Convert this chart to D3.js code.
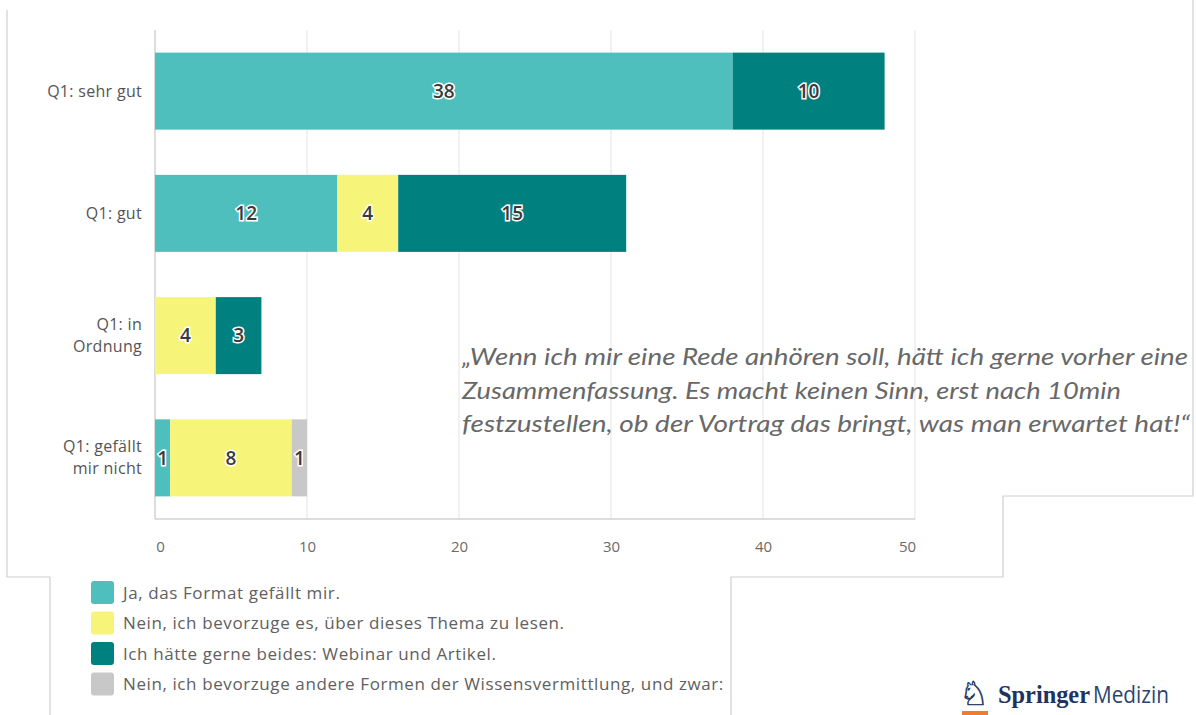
<!DOCTYPE html>
<html>
<head>
<meta charset="utf-8">
<script src="https://cdn.jsdelivr.net/npm/d3@7"></script>
<style>
  html, body { margin: 0; padding: 0; background: #fff; }
  svg { display: block; }
</style>
</head>
<body>
<svg id="chart"></svg>
<script>
// Data
const categories = ["Q1: sehr gut", "Q1: gut", "Q1: in Ordnung", "Q1: gefällt mir nicht"];
const categoryLines = [["Q1: sehr gut"], ["Q1: gut"], ["Q1: in", "Ordnung"], ["Q1: gefällt", "mir nicht"]];
const seriesNames = [
  "Ja, das Format gefällt mir.",
  "Nein, ich bevorzuge es, über dieses Thema zu lesen.",
  "Ich hätte gerne beides: Webinar und Artikel.",
  "Nein, ich bevorzuge andere Formen der Wissensvermittlung, und zwar:"
];
const jaValues = [38, 12, 0, 1];
const lesenValues = [0, 4, 4, 8];
const beidesValues = [10, 15, 3, 0];
const andereValues = [0, 0, 0, 1];
const seriesColors = ["#4ebfbd", "#f6f57a", "#00807f", "#c8c8c8"];
const tickValues = [0, 10, 20, 30, 40, 50];
const quoteLines = [
  "„Wenn ich mir eine Rede anhören soll, hätt ich gerne vorher eine",
  "Zusammenfassung. Es macht keinen Sinn, erst nach 10min",
  "festzustellen, ob der Vortrag das bringt, was man erwartet hat!“"
];

// Build a table for the stack
const keys = ["ja", "lesen", "beides", "andere"];
const table = categories.map((c, i) => ({
  category: c,
  ja: jaValues[i],
  lesen: lesenValues[i],
  beides: beidesValues[i],
  andere: andereValues[i]
}));
const stacked = d3.stack().keys(keys)(table);

// SVG setup
const W = 1196, H = 715;
const svg = d3.select("#chart").attr("width", W).attr("height", H);
svg.append("rect").attr("width", W).attr("height", H).attr("fill", "#fff");

const plot = { left: 155, right: 915, top: 30, bottom: 519 };

// Scales
const x = d3.scaleLinear().domain([0, 50]).range([plot.left, plot.right]);
const y = d3.scaleBand()
  .domain(categories)
  .range([plot.top, plot.bottom])
  .paddingInner(0.37)
  .paddingOuter(0.185);

// Frame lines from the slide
svg.append("path")
  .attr("d", "M7,10V577H50V715")
  .attr("fill", "none").attr("stroke", "#cfcfcf").attr("stroke-width", 1.2);
svg.append("path")
  .attr("d", "M1193,0V496H1003V577H731V715")
  .attr("fill", "none").attr("stroke", "#cfcfcf").attr("stroke-width", 1.2);

// Gridlines
svg.append("g")
  .selectAll("line")
  .data(tickValues)
  .join("line")
  .attr("x1", d => x(d)).attr("x2", d => x(d))
  .attr("y1", plot.top).attr("y2", plot.bottom)
  .attr("stroke", d => d === 0 ? "#d2d2d2" : "#ececec")
  .attr("stroke-width", 1.5);

svg.append("line")
  .attr("x1", x(0)).attr("x2", x(50))
  .attr("y1", plot.bottom).attr("y2", plot.bottom)
  .attr("stroke", "#d2d2d2").attr("stroke-width", 1.5);

// X axis
const xAxis = svg.append("g")
  .attr("transform", "translate(0," + plot.bottom + ")")
  .call(d3.axisBottom(x).tickValues(tickValues).tickSize(0).tickPadding(22));
xAxis.select(".domain").remove();
xAxis.selectAll("text")
  .attr("font-family", "'Open Sans', sans-serif")
  .attr("font-size", 15)
  .attr("fill", "#6a6a6a")
  .attr("dx", d => d === 0 ? 5 : (d === 50 ? -8 : 0));

// Y labels
const yLab = svg.append("g");
categories.forEach((c, i) => {
  const lines = categoryLines[i];
  const cy = y(c) + y.bandwidth() / 2;
  const t = yLab.append("text")
    .attr("x", plot.left - 13)
    .attr("text-anchor", "end")
    .attr("font-family", "'Open Sans', sans-serif")
    .attr("font-size", 16)
    .attr("letter-spacing", 0.3)
    .attr("fill", "#555");
  lines.forEach((l, j) => {
    t.append("tspan")
      .attr("x", plot.left - 13)
      .attr("y", cy + (j - (lines.length - 1) / 2) * 22)
      .attr("dy", "0.35em")
      .text(l);
  });
});

// Bars
const layer = svg.append("g")
  .selectAll("g")
  .data(stacked)
  .join("g")
  .attr("fill", (d, i) => seriesColors[i]);

layer.selectAll("rect")
  .data(d => d.filter(p => p[1] - p[0] > 0))
  .join("rect")
  .attr("x", d => x(d[0]))
  .attr("y", d => y(d.data.category))
  .attr("width", d => x(d[1]) - x(d[0]))
  .attr("height", y.bandwidth());

// Value labels
layer.selectAll("text")
  .data(d => d.filter(p => p[1] - p[0] > 0))
  .join("text")
  .attr("x", d => (x(d[0]) + x(d[1])) / 2)
  .attr("y", d => y(d.data.category) + y.bandwidth() / 2)
  .attr("dy", "0.36em")
  .attr("text-anchor", "middle")
  .attr("font-family", "'Open Sans', sans-serif")
  .attr("font-size", 19)
  .attr("font-weight", 600)
  .attr("fill", "#3a3a3a")
  .attr("stroke", "#fff")
  .attr("stroke-width", 3)
  .attr("paint-order", "stroke")
  .text(d => d[1] - d[0]);

// Quote
const quote = svg.append("g");
const quoteWidths = [726, 659, 728];
quoteLines.forEach((l, i) => {
  quote.append("text")
    .attr("x", 462)
    .attr("y", 365 + i * 33.5)
    .attr("font-family", "Lato, sans-serif")
    .attr("font-style", "italic")
    .attr("font-size", 24)
    .attr("fill", "#686868")
    .attr("textLength", quoteWidths[i])
    .attr("lengthAdjust", "spacingAndGlyphs")
    .text(l);
});

// Legend
const legend = svg.append("g");
seriesNames.forEach((name, i) => {
  const ly = 581 + i * 30.5;
  legend.append("rect")
    .attr("x", 91).attr("y", ly)
    .attr("width", 23).attr("height", 23)
    .attr("rx", 3)
    .attr("fill", seriesColors[i]);
  legend.append("text")
    .attr("x", 123).attr("y", ly + 12)
    .attr("dy", "0.35em")
    .attr("font-family", "'Open Sans', sans-serif")
    .attr("font-size", 17)
    .attr("letter-spacing", 0.6)
    .attr("fill", "#606060")
    .text(name);
});

// Springer Medizin logo
const logo = svg.append("g");
logo.append("text")
  .attr("x", 959).attr("y", 705)
  .attr("font-family", "'DejaVu Sans', sans-serif")
  .attr("font-size", 33)
  .attr("fill", "#1d3461")
  .attr("stroke", "#1d3461")
  .attr("stroke-width", 0.6)
  .text("♘");
logo.append("rect")
  .attr("x", 962).attr("y", 711)
  .attr("width", 26).attr("height", 4)
  .attr("fill", "#ee7d31");
logo.append("text")
  .attr("x", 998).attr("y", 703)
  .attr("font-family", "'Liberation Serif', serif")
  .attr("font-weight", "bold")
  .attr("font-size", 26)
  .attr("fill", "#1d3461")
  .attr("textLength", 92)
  .attr("lengthAdjust", "spacingAndGlyphs")
  .text("Springer");
logo.append("text")
  .attr("x", 1093).attr("y", 703)
  .attr("font-family", "'Open Sans', sans-serif")
  .attr("font-size", 23)
  .attr("fill", "#2b4470")
  .attr("textLength", 76)
  .attr("lengthAdjust", "spacingAndGlyphs")
  .text("Medizin");
</script>
</body>
</html>
